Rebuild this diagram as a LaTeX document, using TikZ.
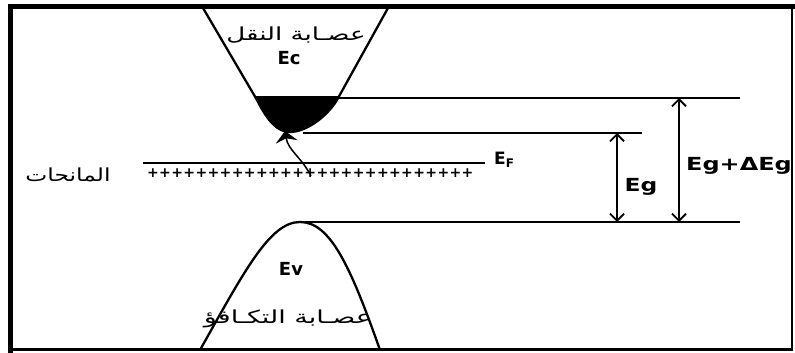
\documentclass[tikz,border=0pt]{standalone}
\usepackage{fontspec}
\usepackage{graphicx}
\usetikzlibrary{arrows.meta}
\TeXXeTstate=1
\newfontfamily\arabicfont[Script=Arabic]{DejaVu Sans}
\newfontfamily\lblfont{DejaVu Sans}
\begin{document}
\begin{tikzpicture}[x=1pt,y=-1pt,
  band/.style={line width=2.3pt},
  level/.style={line width=1.5pt},
  gaparrow/.style={line width=1.8pt,{Straight Barb[length=7pt,width=14pt]}-{Straight Barb[length=7pt,width=14pt]}},
  lbl/.style={font=\lblfont\bfseries\fontsize{18}{20}\selectfont, inner sep=0pt},
  ar/.style={font=\arabicfont\fontsize{18}{20}\selectfont, inner sep=0pt}]
\useasboundingbox (0,0) rectangle (795,353);
\fill[white] (0,0) rectangle (795,353);
% frame
\draw[line width=5pt] (10.5,4) -- (10.5,353);
\draw[line width=5pt] (8,6.5) -- (795,6.5);
\draw[line width=1.5pt] (792,6) -- (792,351);
\draw[line width=2.5pt] (8,349.5) -- (793,349.5);
% conduction band
\fill (254,96) -- (339,96) -- (337,100) .. controls (326,118) and (305,132) .. (290,132) .. controls (278,132) and (268,122) .. (257,100) -- cycle;
\draw[band] (203,8) -- (257,100) .. controls (268,122) and (278,132) .. (290,132) .. controls (305,132) and (326,118) .. (337,100) -- (388,8);
\node[ar] (cbar) at (296,35) {\scalebox{1.45}[1]{\beginR عصـابة النقل\endR}};
\node[lbl] (ec) at (289,58) {Ec};
% valence band
\draw[band] (200,350) .. controls (245,270) and (270,222) .. (300,222) .. controls (330,222) and (350,265) .. (380,350);
\node[lbl] (ev) at (291,269) {Ev};
\node[ar] (vbar) at (288,319) {\scalebox{1.5}[1]{\beginR عصـابة التكـافؤ\endR}};
% levels
\coordinate (c1) at (337,98);
\coordinate (c2) at (740,98);
\coordinate (d1) at (303,133);
\coordinate (d2) at (642,133);
\coordinate (v1) at (305,222);
\coordinate (v2) at (740,222);
\draw[level] (c1) -- (c2);
\draw[level] (d1) -- (d2);
\draw[level] (v1) -- (v2);
% Fermi level and donors
\coordinate (f1) at (143,163);
\coordinate (f2) at (485,163);
\draw[level] (f1) -- (f2);
\node[font=\lblfont\bfseries\fontsize{17}{19}\selectfont, inner sep=0pt, anchor=west] (ef) at (494,160) {E\textsubscript{F}};
\foreach \i in {0,...,26} \node[font=\lblfont\bfseries\fontsize{14}{15}\selectfont, inner sep=0pt] (p\i) at (153+\i*12.1,173.5) {+};
\node[ar] (don) at (68,175) {\scalebox{1.3}[1]{\beginR المانحات\endR}};
% excitation arrow
\coordinate (a0) at (311,176);
\coordinate (a1) at (285,131);
\draw[line width=1.5pt, -{Stealth[length=11pt,width=22pt]}] (a0) .. controls (302,158) and (288,150) .. (a1);
% gap arrows
\coordinate (g1) at (617,133);
\coordinate (g2) at (617,222);
\coordinate (h1) at (679,98);
\coordinate (h2) at (679,222);
\draw[gaparrow] (g1) -- (g2);
\draw[gaparrow] (h1) -- (h2);
\node[lbl] (eg) at (641,187) {\scalebox{1.3}[1]{Eg}};
\node[lbl] (egd) at (739,166) {\scalebox{1.33}[1]{Eg+ΔEg}};
\end{tikzpicture}
\end{document}
